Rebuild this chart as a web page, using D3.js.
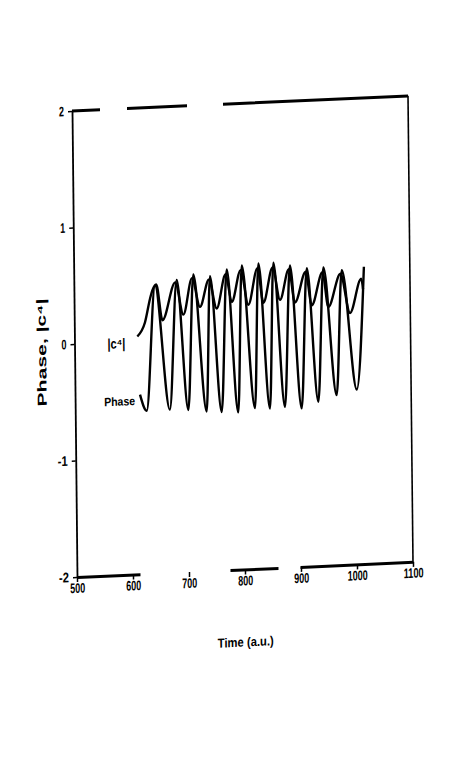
<!DOCTYPE html>
<html>
<head>
<meta charset="utf-8">
<script src="https://cdnjs.cloudflare.com/ajax/libs/d3/7.8.5/d3.min.js"></script>
<style>
  body { margin: 0; background: #fff; }
  svg { display: block; }
  .tick text { font-family: "Liberation Sans", Arial, sans-serif; font-weight: bold; font-size: 14px; fill: #000; }
  .lbl { font-family: "Liberation Sans", Arial, sans-serif; font-weight: bold; fill: #000; }
</style>
</head>
<body>
<div class="chart"></div>
<script>
// values
var xTicks = [500, 600, 700, 800, 900, 1000, 1100];
var yTicks = [-2, -1, 0, 1, 2];
var yTickLabels = ["-2", "-1", "0", "1", "2"];

var phaseTime = [616, 627.6, 644.8, 669, 683.6, 702, 713.4, 734.7, 743.1, 761.5, 773.1, 791, 800,
  821, 829.7, 847.7, 856.5, 874.5, 886, 904.3, 916, 934.2, 945.6, 967, 978.4, 1003, 1018];
var phaseValue = [-0.46, -0.60, 0.47, -0.60, 0.51, -0.61, 0.55, -0.63, 0.53, -0.64, 0.58, -0.65, 0.61,
  -0.62, 0.62, -0.63, 0.62, -0.62, 0.59, -0.64, 0.56, -0.59, 0.56, -0.54, 0.53, -0.50, 0.55];

var c4Time = [612.3, 626.3, 635.7, 640, 647, 657.5, 681, 694.9, 711, 724.7, 741, 754.5, 771, 781.5, 798,
  811, 828, 837.9, 855, 867.7, 884, 894.3, 914, 924.2, 944, 953.8, 976, 992.4, 1013, 1016];
var c4Value = [0.04, 0.16, 0.36, 0.43, 0.48, 0.17, 0.49, 0.21, 0.52, 0.27, 0.50, 0.25, 0.54, 0.30, 0.57,
  0.27, 0.58, 0.28, 0.58, 0.30, 0.56, 0.27, 0.53, 0.24, 0.52, 0.22, 0.50, 0.16, 0.45, 0.36];

var svgWidth = 466, svgHeight = 776;
var width = 336, height = 466;

var svg = d3.select(".chart")
  .append("svg")
  .attr("width", svgWidth)
  .attr("height", svgHeight);

svg.append("rect").attr("width", svgWidth).attr("height", svgHeight).attr("fill", "#fff");

// the scanned page is a little skewed, so the whole plot sits in a sheared group
var chartGroup = svg.append("g")
  .attr("transform", "matrix(1,-0.045,0.0107,1,72,111)");

var xScale = d3.scaleLinear().domain([500, 1100]).range([0, width]);
var yScale = d3.scaleLinear().domain([-2, 2]).range([height, 0]);

var bottomAxis = d3.axisBottom(xScale)
  .tickValues(xTicks)
  .tickFormat(d3.format("d"))
  .tickSize(5)
  .tickSizeOuter(0)
  .tickPadding(1);

var leftAxis = d3.axisLeft(yScale)
  .tickValues(yTicks)
  .tickFormat(function(d, i) { return yTickLabels[i]; })
  .tickSize(4)
  .tickSizeOuter(0)
  .tickPadding(4);

var xAxis = chartGroup.append("g")
  .attr("transform", `translate(0, ${height})`)
  .call(bottomAxis);
xAxis.select(".domain")
  .attr("stroke-width", 3)
  .attr("stroke-dasharray", "63,90,48,22,120");
xAxis.selectAll(".tick line").attr("stroke-width", 1.5);

var yAxis = chartGroup.append("g").call(leftAxis);
yAxis.select(".domain").attr("stroke-width", 1.8);
yAxis.selectAll(".tick line").attr("stroke-width", 1.5);

// the scan's lettering is very narrow
chartGroup.selectAll(".tick text")
  .attr("textLength", function() { return this.textContent.length * 5; })
  .attr("lengthAdjust", "spacingAndGlyphs");

// top and right edges of the frame
chartGroup.append("line")
  .attr("x1", xScale(500)).attr("x2", xScale(1100))
  .attr("y1", yScale(2)).attr("y2", yScale(2))
  .attr("stroke", "#000")
  .attr("stroke-width", 3)
  .attr("stroke-dasharray", "28,27,60,36,190");

chartGroup.append("line")
  .attr("x1", xScale(1100)).attr("x2", xScale(1100))
  .attr("y1", yScale(2)).attr("y2", yScale(-2))
  .attr("stroke", "#000")
  .attr("stroke-width", 1.6);

var phaseData = phaseTime.map(function(t, i) { return [t, phaseValue[i]]; });
var c4Data = c4Time.map(function(t, i) { return [t, c4Value[i]]; });

var line = d3.line()
  .x(d => xScale(d[0]))
  .y(d => yScale(d[1]))
  .curve(d3.curveMonotoneX);

chartGroup.append("path")
  .datum(phaseData)
  .attr("d", line)
  .attr("fill", "none")
  .attr("stroke", "#000")
  .attr("stroke-width", 2.4)
  .attr("stroke-linejoin", "round");

chartGroup.append("path")
  .datum(c4Data)
  .attr("d", line)
  .attr("fill", "none")
  .attr("stroke", "#000")
  .attr("stroke-width", 2.4)
  .attr("stroke-linejoin", "round");

// series labels next to where each curve starts
chartGroup.append("text")
  .attr("class", "lbl")
  .attr("x", xScale(c4Time[0]) - 12)
  .attr("y", yScale(c4Value[0]) + 11)
  .attr("text-anchor", "end")
  .attr("font-size", "14px")
  .attr("textLength", 18)
  .attr("lengthAdjust", "spacingAndGlyphs")
  .text("|c⁴|");

chartGroup.append("text")
  .attr("class", "lbl")
  .attr("x", xScale(phaseTime[0]) - 5)
  .attr("y", yScale(phaseValue[0]) + 10)
  .attr("text-anchor", "end")
  .attr("font-size", "12px")
  .attr("textLength", 31)
  .attr("lengthAdjust", "spacingAndGlyphs")
  .text("Phase");

// axis titles
chartGroup.append("text")
  .attr("class", "lbl")
  .attr("x", width / 2)
  .attr("y", height + 77)
  .attr("text-anchor", "middle")
  .attr("font-size", "13px")
  .attr("textLength", 56)
  .attr("lengthAdjust", "spacingAndGlyphs")
  .text("Time (a.u.)");

chartGroup.append("text")
  .attr("class", "lbl")
  .attr("transform", `translate(-33, ${yScale(0) + 7}) rotate(-90)`)
  .attr("dy", "0.35em")
  .attr("text-anchor", "middle")
  .attr("font-size", "13px")
  .attr("textLength", 108)
  .attr("lengthAdjust", "spacingAndGlyphs")
  .text("Phase, |c⁴|");
</script>
</body>
</html>
